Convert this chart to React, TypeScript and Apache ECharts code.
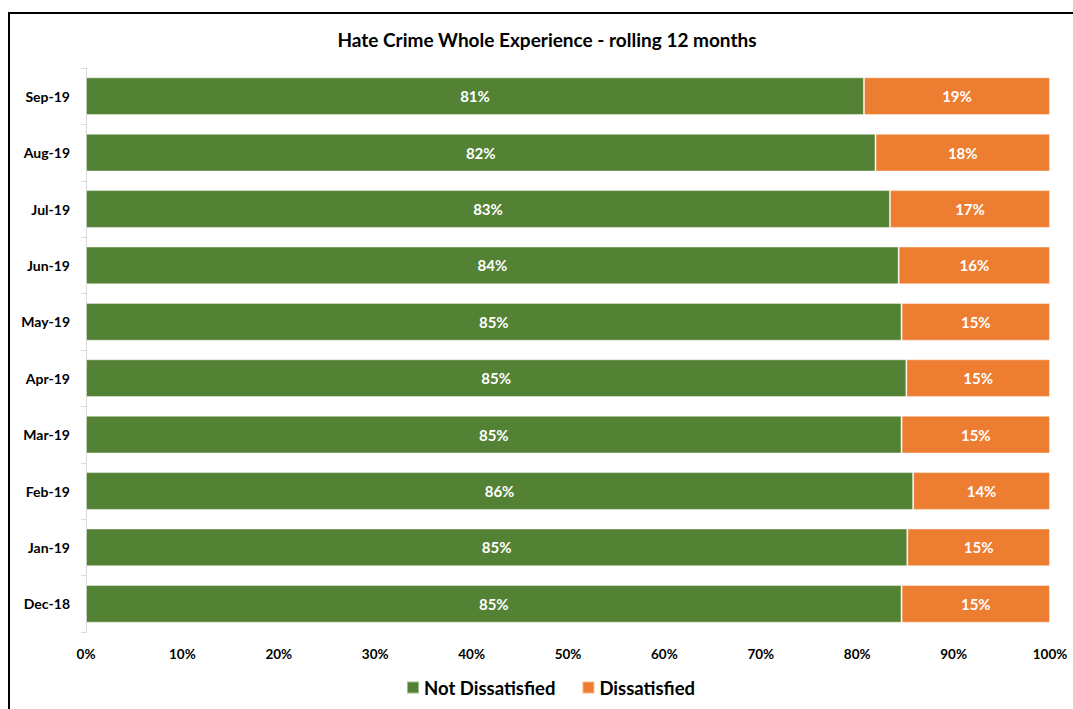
import React, { useEffect, useRef } from "react";
import * as echarts from "echarts";

const categories = ["Sep-19", "Aug-19", "Jul-19", "Jun-19", "May-19", "Apr-19", "Mar-19", "Feb-19", "Jan-19", "Dec-18"];
const notDissatisfied = [80.7, 81.9, 83.4, 84.3, 84.6, 85.1, 84.6, 85.8, 85.2, 84.6];
const dissatisfied = [19.3, 18.1, 16.6, 15.7, 15.4, 14.9, 15.4, 14.2, 14.8, 15.4];
const xTicks = [0, 10, 20, 30, 40, 50, 60, 70, 80, 90, 100];

const FONT = "Lato, 'Open Sans', sans-serif";

export default function App() {
  const ref = useRef<HTMLDivElement>(null);
  useEffect(() => {
    if (!ref.current) return;
    const chart = echarts.init(ref.current, undefined, { renderer: "svg" });
    const labelCfg = {
      show: true,
      position: "inside",
      color: "#ffffff",
      fontFamily: FONT,
      fontWeight: "bold",
      fontSize: 15,
      formatter: (p: any) => Math.round(p.value) + "%",
    };
    chart.setOption({
      animation: false,
      backgroundColor: "#ffffff",
      title: {
        text: "Hate Crime Whole Experience - rolling 12 months",
        left: 542,
        top: 25,
        textAlign: "center",
        textStyle: { fontFamily: FONT, fontWeight: "bold", fontSize: 19, color: "#000" },
      },
      legend: {
        data: ["Not Dissatisfied", "Dissatisfied"],
        left: 401,
        bottom: 7,
        itemWidth: 12,
        itemHeight: 12,
        itemGap: 26,
        icon: "rect",
        textStyle: { fontFamily: FONT, fontWeight: "bold", fontSize: 18.5, color: "#000" },
      },
      grid: { left: 86, right: 23, top: 68, bottom: 77, containLabel: false },
      xAxis: {
        type: "value",
        min: xTicks[0],
        max: xTicks[xTicks.length - 1],
        interval: 10,
        axisLine: { show: false },
        axisTick: { show: false },
        splitLine: { show: false },
        axisLabel: {
          formatter: "{value}%",
          fontFamily: FONT,
          fontWeight: "bold",
          fontSize: 13.5,
          color: "#000",
          margin: 15,
        },
      },
      yAxis: {
        type: "category",
        data: categories,
        inverse: true,
        axisLine: { show: true, lineStyle: { color: "#d9d9d9", width: 1 } },
        axisTick: { show: true, length: 5, lineStyle: { color: "#d9d9d9" } },
        axisLabel: {
          fontFamily: FONT,
          fontWeight: "bold",
          fontSize: 14,
          color: "#000",
          margin: 16,
        },
      },
      series: [
        {
          name: "Not Dissatisfied",
          type: "bar",
          stack: "total",
          data: notDissatisfied,
          barCategoryGap: "33%",
          itemStyle: { color: "#548235", borderColor: "rgba(255,255,255,0.45)", borderWidth: 1 },
          label: labelCfg,
        },
        {
          name: "Dissatisfied",
          type: "bar",
          stack: "total",
          data: dissatisfied,
          barCategoryGap: "33%",
          itemStyle: { color: "#ED7D31", borderColor: "rgba(255,255,255,0.45)", borderWidth: 1 },
          label: labelCfg,
        },
      ],
      graphic: [
        {
          type: "rect",
          shape: { x: 9, y: 13, width: 1200, height: 800 },
          style: { fill: "none", stroke: "#000", lineWidth: 2 },
          silent: true,
        },
      ],
    });
    return () => chart.dispose();
  }, []);
  return (
    <div
      ref={ref}
      style={{ position: "fixed", left: 0, top: 0, width: 1073, height: 709 }}
    />
  );
}
